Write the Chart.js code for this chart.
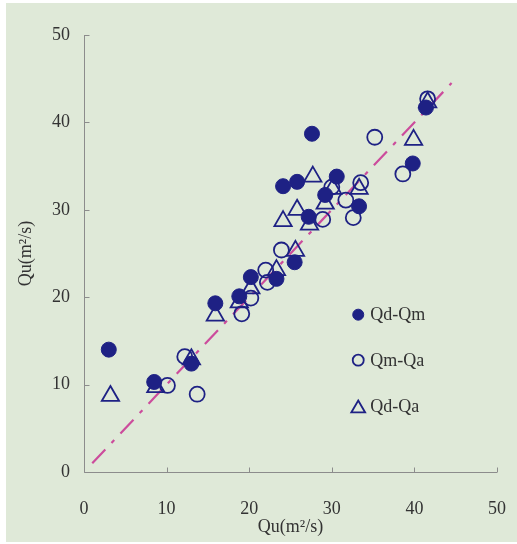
<!DOCTYPE html>
<html>
<head>
<meta charset="utf-8">
<script src="https://cdn.jsdelivr.net/npm/chart.js@4.4.1/dist/chart.umd.min.js"></script>
<style>
  html, body { margin: 0; padding: 0; background: #fff; }
  #wrap { position: relative; width: 517px; height: 544px; }
  #bg { position: absolute; left: 6px; top: 3px; right: 0; bottom: 2px; background: #dfe9d8; }
  #c { position: absolute; left: 0; top: 0; }
</style>
</head>
<body>
<div id="wrap">
  <div id="bg"></div>
  <canvas id="c" width="517" height="544"></canvas>
</div>
<script>
// Qu comparison scatter: three source pairs against each other, 1:1 line.

const qdQmX = [3.0, 8.5, 13.0, 15.9, 18.8, 20.2, 23.3, 25.5, 24.1, 25.8, 27.6, 27.2, 29.2, 30.6, 33.3, 39.8, 41.4];
const qdQmY = [14.0, 10.3, 12.4, 19.3, 20.1, 22.3, 22.1, 24.0, 32.7, 33.2, 38.7, 29.2, 31.7, 33.8, 30.4, 35.3, 41.7];

const qmQaX = [10.1, 12.2, 13.7, 19.1, 20.2, 22.0, 22.2, 23.9, 28.9, 31.7, 32.6, 33.5, 30.0, 35.2, 38.6, 41.6];
const qmQaY = [9.9, 13.2, 8.9, 18.1, 19.9, 23.1, 21.7, 25.4, 28.9, 31.1, 29.1, 33.1, 32.6, 38.3, 34.1, 42.7];

const qdQaX = [3.2, 8.7, 13.0, 15.9, 18.8, 20.2, 23.3, 25.6, 24.1, 25.8, 27.3, 27.7, 29.2, 30.1, 33.3, 39.9, 41.6];
const qdQaY = [8.7, 9.7, 12.9, 17.9, 19.4, 21.0, 23.1, 25.3, 28.7, 30.0, 28.3, 33.8, 30.7, 32.4, 32.4, 38.0, 42.3];

const fitX = [1, 44.5];
const fitY = [1, 44.5];

const axisTicks = [0, 10, 20, 30, 40, 50];
const seriesNames = ['Qd-Qm', 'Qm-Qa', 'Qd-Qa'];

const navy = '#1e2184';
const ink = '#333333';
const axisColor = '#8c8c8c';
const serif = '"Liberation Serif", "Times New Roman", serif';

const pts = (xs, ys) => xs.map((x, i) => ({ x, y: ys[i] }));

// axes with inward tick marks, drawn over the library scales
const axesPlugin = {
  id: 'inward-axes',
  afterDatasetsDraw(chart) {
    const { ctx, chartArea } = chart;
    const sx = chart.scales.x, sy = chart.scales.y;
    ctx.save();
    ctx.strokeStyle = axisColor;
    ctx.lineWidth = 1;
    ctx.beginPath();
    const x0 = Math.round(chartArea.left) + 0.5;
    const y0 = Math.round(chartArea.bottom) + 0.5;
    ctx.moveTo(x0, chartArea.top);
    ctx.lineTo(x0, y0);
    ctx.lineTo(chartArea.right, y0);
    for (const v of axisTicks) {
      const px = Math.round(sx.getPixelForValue(v)) + 0.5;
      ctx.moveTo(px, y0);
      ctx.lineTo(px, y0 - 5);
      const py = Math.round(sy.getPixelForValue(v)) + 0.5;
      ctx.moveTo(x0, py);
      ctx.lineTo(x0 + 5, py);
    }
    ctx.stroke();
    ctx.restore();
  },
};

// legend sits inside the plot, right of centre
const legendPlugin = {
  id: 'inset-legend',
  afterDraw(chart) {
    const ctx = chart.ctx;
    const sx = chart.scales.x, sy = chart.scales.y;
    const lx = sx.getPixelForValue(33.2);
    const rows = [18.0, 12.8, 7.5];
    ctx.save();
    ctx.font = '18px ' + serif;
    ctx.textBaseline = 'middle';
    ctx.textAlign = 'left';
    seriesNames.forEach((name, i) => {
      const ds = chart.data.datasets[i];
      const py = sy.getPixelForValue(rows[i]);
      ctx.fillStyle = ds.pointBackgroundColor;
      ctx.strokeStyle = ds.pointBorderColor;
      ctx.lineWidth = ds.pointBorderWidth;
      Chart.helpers.drawPoint(ctx, {
        pointStyle: ds.pointStyle,
        radius: ds.pointStyle === 'triangle' ? 8 : 5.5,
        borderWidth: ds.pointBorderWidth,
        rotation: 0,
      }, lx, ds.pointStyle === 'triangle' ? py + 2 : py);
      ctx.fillStyle = ink;
      ctx.fillText(name, lx + 12, py + 1);
    });
    ctx.restore();
  },
};

new Chart(document.getElementById('c'), {
  type: 'scatter',
  data: {
    datasets: [
      {
        label: seriesNames[0], data: pts(qdQmX, qdQmY),
        pointStyle: 'circle', pointRadius: 7.5,
        pointBackgroundColor: navy, pointBorderColor: navy, pointBorderWidth: 1,
      },
      {
        label: seriesNames[1], data: pts(qmQaX, qmQaY),
        pointStyle: 'circle', pointRadius: 7.5,
        pointBackgroundColor: 'rgba(0,0,0,0)', pointBorderColor: navy, pointBorderWidth: 1.8,
      },
      {
        label: seriesNames[2], data: pts(qdQaX, qdQaY),
        pointStyle: 'triangle', pointRadius: 10,
        pointBackgroundColor: 'rgba(0,0,0,0)', pointBorderColor: navy, pointBorderWidth: 1.8,
      },
      {
        type: 'line', label: '1:1', data: pts(fitX, fitY),
        borderColor: '#cc4c9c', borderWidth: 2.2, borderDash: [19, 9, 4, 9],
        pointRadius: 0, fill: false,
      },
    ],
  },
  options: {
    responsive: false, animation: false,
    layout: { padding: { top: 35, right: 20, left: 0, bottom: 0 } },
    scales: {
      x: {
        type: 'linear', min: 0, max: 50,
        afterFit: s => { s.height = 72; s.paddingLeft = 0; s.paddingRight = 0; },
        afterBuildTicks: s => { s.ticks = axisTicks.map(v => ({ value: v })); },
        grid: { display: false, drawTicks: false },
        border: { display: false },
        ticks: { color: ink, padding: 26, font: { family: serif, size: 18 } },
        title: { display: true, text: 'Qu(m²/s)', color: ink, padding: { bottom: 6 }, font: { family: serif, size: 18 } },
      },
      y: {
        type: 'linear', min: 0, max: 50,
        afterFit: s => { s.width = 84; s.paddingTop = 0; s.paddingBottom = 0; },
        afterBuildTicks: s => { s.ticks = axisTicks.map(v => ({ value: v })); },
        grid: { display: false, drawTicks: false },
        border: { display: false },
        ticks: { color: ink, padding: 14, font: { family: serif, size: 18 } },
        title: { display: true, text: 'Qu(m²/s)', color: ink, padding: { top: 15 }, font: { family: serif, size: 18 } },
      },
    },
    plugins: {
      legend: { display: false },
      tooltip: { enabled: false },
    },
  },
  plugins: [axesPlugin, legendPlugin],
});
</script>
</body>
</html>
